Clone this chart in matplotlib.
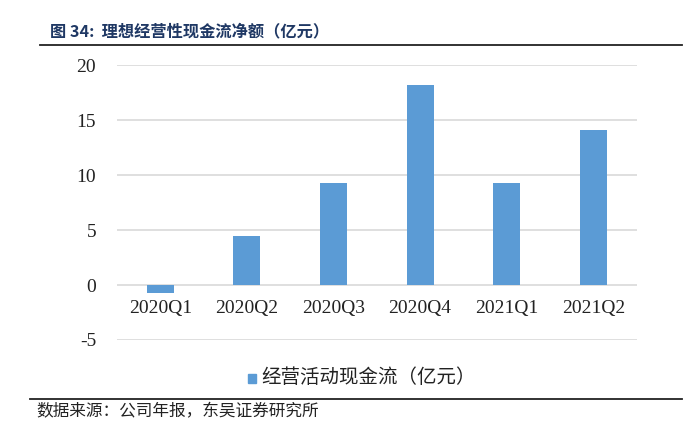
import numpy as np
import matplotlib.pyplot as plt
from matplotlib.patches import Rectangle

plt.rcParams['font.family'] = ['Liberation Serif', 'Noto Sans CJK SC']

quarters = ['2020Q1', '2020Q2', '2020Q3', '2020Q4', '2021Q1', '2021Q2']
cash_flow = [-0.7, 4.5, 9.25, 18.2, 9.25, 14.05]
yticks = [-5, 0, 5, 10, 15, 20]

title = '图 34:  理想经营性现金流净额（亿元）'
legend_label = '经营活动现金流（亿元）'
source = '数据来源：公司年报，东吴证券研究所'

cjk = ['Noto Sans CJK SC', 'DejaVu Sans']
bar_color = '#5B9BD5'
grid_color = '#D9D9D9'

fig = plt.figure(figsize=(6.92, 4.25), dpi=100)
ax = fig.add_axes([0.169, 0.2, 0.751, 0.647])

x = np.arange(len(quarters))
ax.bar(x, cash_flow, width=0.31, color=bar_color, zorder=3)

ax.set_xlim(-0.5, len(quarters) - 0.5)
ax.set_ylim(-5, 20)
ax.set_yticks(yticks)
ax.set_yticklabels([str(t) for t in yticks], fontsize=14, color='#222222')
ax.tick_params(axis='y', length=0, pad=15)
ax.set_xticks([])
for t in yticks:
    ax.axhline(t, color=grid_color, lw=1.2, zorder=1)
for s in ax.spines.values():
    s.set_visible(False)

# category labels sit just under the zero line
for xi, q in zip(x, quarters):
    ax.annotate(q, (xi, 0), xytext=(0, -11), textcoords='offset points',
                ha='center', va='top', fontsize=14, color='#222222')

# title and rules
fig.text(0.072, 0.927, title, family=cjk, fontsize=11.7, fontweight='bold',
         color='#1F3864', va='center')
fig.add_artist(plt.Line2D([0.058, 0.985], [0.893, 0.893], color='#222222', lw=1.3))
fig.add_artist(plt.Line2D([0.043, 0.985], [0.061, 0.061], color='#222222', lw=1.3))
fig.text(0.053, 0.03, source, family=cjk, fontsize=12, color='#222222', va='center')

# legend
fig.add_artist(Rectangle((0.358, 0.100), 0.012, 0.02, color=bar_color,
                         transform=fig.transFigure))
fig.text(0.378, 0.111, legend_label, family=cjk, fontsize=14, color='#222222',
         va='center')

fig.savefig('out.png', dpi=100)
